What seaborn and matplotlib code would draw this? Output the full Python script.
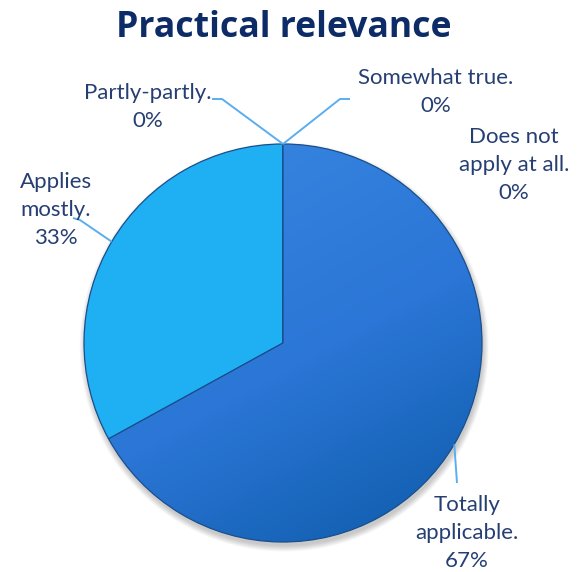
import textwrap
import numpy as np
import matplotlib
matplotlib.use("Agg")
import matplotlib.pyplot as plt
import seaborn as sns
from matplotlib.patches import Circle
from matplotlib.colors import LinearSegmentedColormap

# Survey answers, in pie order (clockwise from 12 o'clock)
categories = ["Totally applicable.", "Applies mostly.", "Partly-partly.",
              "Somewhat true.", "Does not apply at all."]
shares = [67, 33, 0, 0, 0]
pct_labels = ["67%", "33%", "0%", "0%", "0%"]
slice_colors = ["#2F7CDB", "#1FB0F4", "#1890D8", "#5A9BD5", "#2A64B8"]
title = "Practical relevance"

sns.set_theme(style="white")
plt.rcParams["font.family"] = ["Lato", "DejaVu Sans"]

W, H, DPI = 578, 572, 100
CX, CY, R = 283, 343, 199  # pie centre and radius, in pixels


def px(x, y):
    """Pixel position (origin top-left) -> pie data coordinates."""
    return ((x - CX) / R, (CY - y) / R)


fig = plt.figure(figsize=(W / DPI, H / DPI), dpi=DPI)
ax = fig.add_axes([0, 0, 1, 1])

# soft drop shadow under the pie
for k in range(8):
    ax.add_patch(Circle((0.006, -0.02), 1.0 + 0.004 * k, facecolor="#000000",
                        alpha=0.028, edgecolor="none", zorder=0))

wedges, _ = ax.pie(shares, colors=slice_colors, startangle=90, counterclock=False,
                   radius=1, wedgeprops=dict(edgecolor="#1A4E8C", linewidth=0.9))

# shading on the large slice: lighter towards the top-left, darker bottom-right
yy, xx = np.mgrid[1:-1:400j, -1:1:400j]
t = 0.55 * xx - yy
cmap = LinearSegmentedColormap.from_list("shade", ["#3583DF", "#2B76D6", "#0F5DAD"])
img = ax.imshow(t, extent=[-1, 1, -1, 1], cmap=cmap, vmin=-1.1, vmax=1.4,
                zorder=1.5, interpolation="bilinear")
img.set_clip_path(wedges[0])
wedges[0].set_facecolor("none")
wedges[0].set_zorder(2)

# label text centres and leader-line elbows (pixels)
layout = {
    "Totally applicable.": dict(text=(467, 533), wrap=11, path=[(457, 483)]),
    "Applies mostly.": dict(text=(56, 210), wrap=8, path=[(80, 220), (73, 218)]),
    "Partly-partly.": dict(text=(148, 107), wrap=20, path=[(222, 99), (212, 99)]),
    "Somewhat true.": dict(text=(436, 92), wrap=20, path=[(340, 99), (350, 99)]),
    "Does not apply at all.": dict(text=(514, 165), wrap=13, path=[]),
}

text_color = "#263F73"
line_color = "#5AAEF0"
for w, cat, pct in zip(wedges, categories, pct_labels):
    spec = layout[cat]
    lines = textwrap.wrap(cat, spec["wrap"], break_on_hyphens=False)
    label = "\n".join(lines + [pct])
    tx, ty = px(*spec["text"])
    ax.text(tx, ty, label, ha="center", va="center", fontsize=16,
            color=text_color, linespacing=1.52, zorder=5)
    if spec["path"]:
        mid = np.deg2rad((w.theta1 + w.theta2) / 2)
        pts = [(np.cos(mid), np.sin(mid))] + [px(*p) for p in spec["path"]]
        xs, ys = zip(*pts)
        ax.plot(xs, ys, color=line_color, lw=1.4, zorder=4,
                solid_capstyle="butt")

ax.text(*px(284, 28), title, ha="center", va="center", fontsize=25.7,
        fontweight="bold", color="#0C2B67", family=["Open Sans", "DejaVu Sans"])

x0, _ = px(0, 0)
x1, _ = px(W, 0)
_, y0 = px(0, H)
_, y1 = px(0, 0)
ax.set_xlim(x0, x1)
ax.set_ylim(y0, y1)
ax.set_aspect("auto")
ax.axis("off")

fig.savefig("out.png", dpi=DPI, facecolor="white")
